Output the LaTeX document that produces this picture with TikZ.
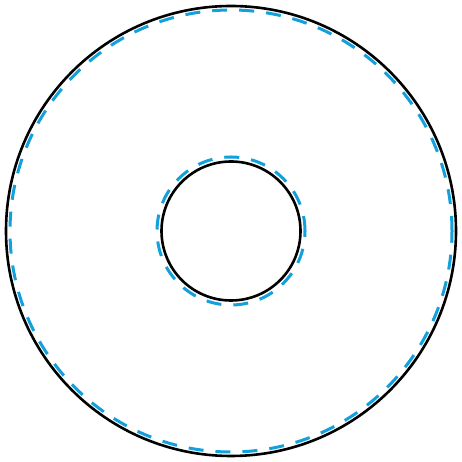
\documentclass[tikz,border=0pt]{standalone}
\definecolor{dashblue}{RGB}{20,160,220}
\begin{document}
\begin{tikzpicture}[x=1pt,y=1pt,
  blackring/.style={draw=black,line width=2.6pt},
  blue dashed ring/.style={draw=dashblue,line width=3pt,dash pattern=on 15pt off 12pt}]
\useasboundingbox (0,0) rectangle (462,462);
\coordinate (c) at (231,231);
\draw[blackring] (c) circle[radius=225];
\draw[blue dashed ring] (c) circle[radius=221];
\draw[blackring] (c) circle[radius=69.5];
\draw[blue dashed ring] (c) circle[radius=74];
\end{tikzpicture}
\end{document}
